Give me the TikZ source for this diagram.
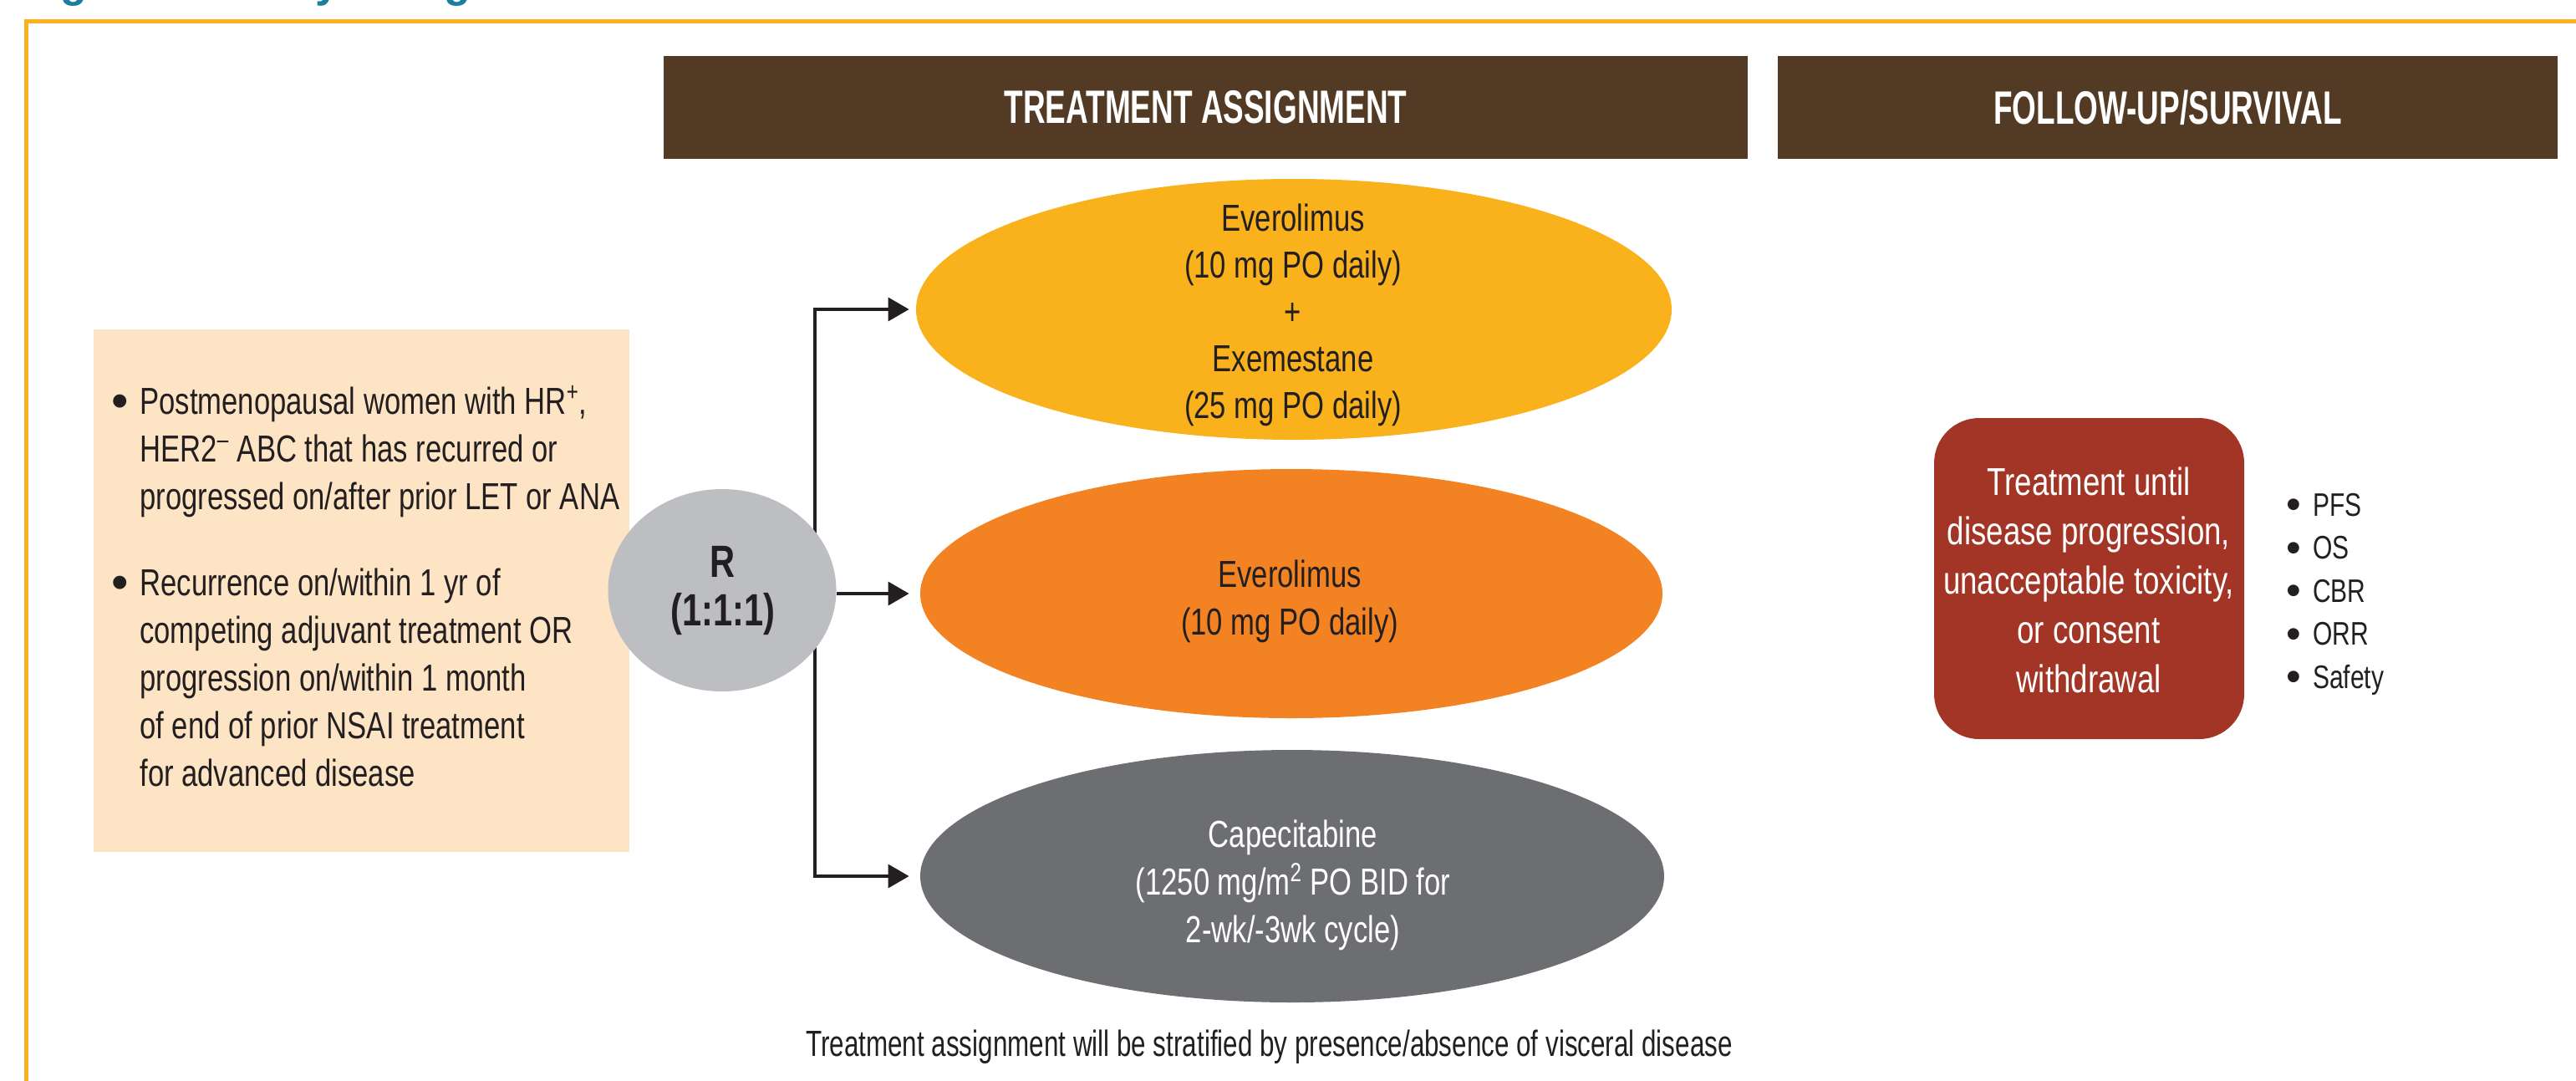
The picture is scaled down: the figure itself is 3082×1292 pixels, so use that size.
\documentclass[tikz,border=0pt]{standalone}
\usepackage{fontspec}
\setmainfont{Liberation Sans}[FakeStretch=0.72]
\newfontfamily\wideC{Liberation Sans}[FakeStretch=0.77]
\newfontfamily\redC{Liberation Sans}[FakeStretch=0.79]
\newfontfamily\hdfont{Liberation Sans}[FakeStretch=0.66]
\newfontfamily\rfont{Liberation Sans}[FakeStretch=0.77]
\newfontfamily\ttlfont{Liberation Sans}
\newcommand{\bul}{{\ttlfont\raisebox{-0.1em}{\scalebox{1.3}{\textbullet}}}}
\usetikzlibrary{shapes.geometric,arrows.meta}
\definecolor{framecol}{HTML}{FBB11F}
\definecolor{hdrbrown}{HTML}{533A25}
\definecolor{peach}{HTML}{FCE4C4}
\definecolor{rgray}{HTML}{BDBEC1}
\definecolor{eyellow}{HTML}{F9B11C}
\definecolor{eorange}{HTML}{F38222}
\definecolor{egray}{HTML}{6D6E71}
\definecolor{fured}{HTML}{A23526}
\definecolor{txt}{HTML}{231F20}
\definecolor{teal}{HTML}{1A7F9E}
\begin{document}
\begin{tikzpicture}[x=0.5pt,y=-0.5pt,
  hdr/.style={fill=hdrbrown, text=white, inner sep=0pt,
    font=\hdfont\bfseries\fontsize{28}{32}\selectfont},
  body/.style={text=txt, inner sep=0pt, font=\wideC\fontsize{22.5}{28.5}\selectfont},
  etext/.style={text=txt, inner sep=0pt, align=center, font=\wideC\fontsize{22.5}{28.5}\selectfont},
  oval/.style={ellipse, inner sep=0pt, draw=none},
  conn/.style={draw=txt, line width=1.7pt},
  arr/.style={conn, -{Triangle[length=12.5pt,width=14pt]}}
]
\useasboundingbox (0,0) rectangle (3082,1292);
% title (cut off at the top)
\node[anchor=base west, inner sep=0pt, text=teal,
  font=\ttlfont\bfseries\fontsize{26}{30}\selectfont] (title) at (26,-4) {Figure 1. Study Design};
% frame
\draw[framecol, line width=2.5pt] (31,1320) -- (31,25.5) -- (3120,25.5);
% headers
\node[hdr, minimum width=648.5pt, minimum height=61.5pt] (h1) at (1442.5,128.5) {TREATMENT ASSIGNMENT};
\node[hdr, minimum width=466.5pt, minimum height=61.5pt] (h2) at (2593.5,128.5) {FOLLOW-UP/SURVIVAL};
% eligibility box
\node[fill=peach, inner sep=0pt, minimum width=320.5pt, minimum height=312.5pt] (elig) at (432.5,706.5) {};
\node[body, anchor=base] (bl1) at (143.5,495) {\bul};
\node[body, anchor=base west, align=left] (t1) at (167,609)
  {Postmenopausal women with HR\textsuperscript{+},\\HER2\textsuperscript{\textendash} ABC that has recurred or\\progressed on/after prior LET or ANA};
\node[body, anchor=base] (bl2) at (143.5,712) {\bul};
\node[body, anchor=base west, align=left] (t2) at (167,940)
  {Recurrence on/within 1 yr of\\competing adjuvant treatment OR\\progression on/within 1 month\\of end of prior NSAI treatment\\for advanced disease};
% treatment ellipses
\node[oval, fill=eyellow, minimum width=452pt, minimum height=156pt] (e1) at (1548,370) {};
\node[oval, fill=eorange, minimum width=444pt, minimum height=149pt] (e2) at (1545,710) {};
\node[oval, fill=egray, minimum width=445pt, minimum height=151pt] (e3) at (1546,1048) {};
\node[etext, anchor=base, font=\wideC\fontsize{22.5}{27.9}\selectfont] (e1t) at (1547,500)
  {Everolimus\\(10 mg PO daily)\\+\\Exemestane\\(25 mg PO daily)};
\node[etext, anchor=base] (e2t) at (1543,759) {Everolimus\\(10 mg PO daily)};
\node[etext, anchor=base, text=white] (e3t) at (1547,1127)
  {Capecitabine\\(1250 mg/m\textsuperscript{2} PO BID for\\2-wk/-3wk cycle)};
% branching connectors (behind R)
\coordinate (sp) at (975,706);
\draw[arr, shorten >=4pt] (sp) |- (e1.west);
\draw[arr, shorten >=6.5pt] (sp) |- (e3.west);
% randomisation
\node[oval, fill=rgray, minimum width=136.5pt, minimum height=121pt] (R) at (864,706) {};
\node[anchor=base, inner sep=0pt, align=center, text=txt,
  font=\rfont\bfseries\fontsize{27}{29}\selectfont] (Rt) at (865,748) {R\\(1:1:1)};
\draw[arr, shorten >=6.5pt] (R.east |- e2.west) -- (e2.west);
% follow-up
\node[fill=fured, rounded corners=27pt, inner sep=0pt, minimum width=185.5pt, minimum height=192pt] (fu) at (2499.5,692) {};
\node[anchor=base, inner sep=0pt, align=center, text=white,
  font=\redC\fontsize{23.2}{29.5}\selectfont] (fut) at (2499,828)
  {Treatment until\\disease progression,\\unacceptable toxicity,\\or consent\\withdrawal};
\node[anchor=base west, inner sep=0pt, align=left, text=txt,
  font=\wideC\fontsize{19.5}{25.75}\selectfont] (ends) at (2735,823)
  {\bul\hspace{7pt}PFS\\\bul\hspace{7pt}OS\\\bul\hspace{7pt}CBR\\\bul\hspace{7pt}ORR\\\bul\hspace{7pt}Safety};
% footnote
\node[anchor=base, inner sep=0pt, text=txt, font=\fontsize{21.8}{26}\selectfont] (note) at (1518.5,1263)
  {Treatment assignment will be stratified by presence/absence of visceral disease};
\end{tikzpicture}
\end{document}
